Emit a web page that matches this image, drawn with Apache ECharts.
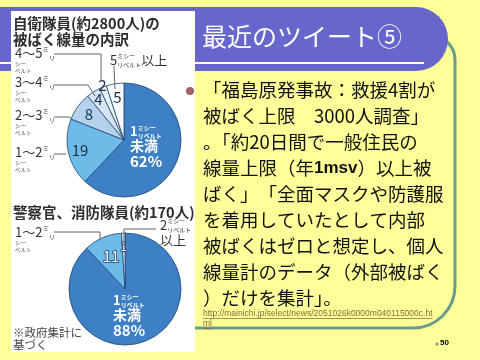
<!DOCTYPE html>
<html><head><meta charset="utf-8">
<script src="https://cdn.jsdelivr.net/npm/echarts@6/dist/echarts.min.js"></script>
<style>html,body{margin:0;padding:0;background:#ffff99}#c{width:480px;height:360px}</style>
</head><body><div id="c"></div><script>
// ---------- data ----------
const pie1Names = ['1ミリシーベルト未満','1〜2ミリシーベルト','2〜3ミリシーベルト','3〜4ミリシーベルト','4〜5ミリシーベルト','5ミリシーベルト以上'];
const pie1Values = [62, 19, 8, 4, 2, 5];
const pie1Ranges = ['1', '1〜2', '2〜3', '3〜4', '4〜5', '5'];
const pie2Names = ['1ミリシーベルト未満','1〜2ミリシーベルト','2ミリシーベルト以上'];
const pie2Values = [88, 11, 1];
const pie2Ranges = ['1', '1〜2', '2'];
const pie1Title = ['自衛隊員(約2800人)の', '被ばく線量の内訳'];
const pie2Title = '警察官、消防隊員(約170人)';
const noteLines = ['※政府集計に', '基づく'];
const slideTitle = '最近のツイート⑤';
const bodyLines = [
  [['k','「福島原発事故：救援4割が']],
  [['k','被ばく上限　3000人調査」']],
  [['k','。「'],['b','約20日間で一般住民の']],
  [['b','線量上限（年'],['bb','1msv'],['b','）以上被']],
  [['b','ばく」'],['k','「全面マスクや防護服']],
  [['k','を着用していたとして内部']],
  [['k','被ばくはゼロと想定し、個人']],
  [['k','線量計のデータ（外部被ばく']],
  [['k','）だけを集計」。']]
];
const urlLines = ['http://mainichi.jp/select/news/2051026k0000m040115000c.ht', 'ml'];
const pageNo = '50';

// ---------- styling / layout ----------
const JP = '"Noto Sans CJK JP", sans-serif';
const pie1Colors = ['#3d80c5', '#6dbbe9', '#b2d2ee', '#d4e4f4', '#e8f0f9', '#f7fafd'];
const pie2Colors = ['#3d80c5', '#6dbbe9', '#e8f0f9'];
const P1 = {cx: 124, cy: 140, r: 57};
const P2 = {cx: 125, cy: 289, r: 56};

function midAngle(vals, i) {
  const tot = vals.reduce((a, b) => a + b, 0);
  let c = 0; for (let k = 0; k < i; k++) c += vals[k];
  return (c + vals[i] / 2) / tot * 2 * Math.PI;
}
function polar(p, frac, vals, i) {
  const a = midAngle(vals, i);
  return [p.cx + p.r * frac * Math.sin(a), p.cy - p.r * frac * Math.cos(a)];
}

const rich = {
  n:  {fontSize: 13, color: '#333', fontFamily: JP, lineHeight: 15},
  st: {fontSize: 6.5, color: '#333', fontFamily: JP, lineHeight: 15, verticalAlign: 'top'},
  s0: {fontSize: 6, color: '#333', fontFamily: JP, lineHeight: 15, verticalAlign: 'top', width: 0.01},
  sb: {fontSize: 6, color: '#333', fontFamily: JP, lineHeight: 15, verticalAlign: 'bottom'},
  t:  {fontSize: 5.5, color: '#555', fontFamily: JP, lineHeight: 6.5},
  w:  {fontSize: 13, color: '#fff', fontFamily: JP, fontWeight: 'bold', lineHeight: 14},
  ws0:{fontSize: 6, color: '#fff', fontFamily: JP, fontWeight: 'bold', lineHeight: 14, verticalAlign: 'top', width: 0.01},
  wsb:{fontSize: 6, color: '#fff', fontFamily: JP, fontWeight: 'bold', lineHeight: 14, verticalAlign: 'bottom'},
  wb: {fontSize: 14, color: '#fff', fontFamily: JP, fontWeight: 'bold', lineHeight: 15},
  wp: {fontSize: 15, color: '#fff', fontFamily: JP, fontWeight: 'bold', lineHeight: 16}
};
function outsideText(range, last, wrapAbove) {
  if (last) {
    return '{n|' + range + '}{s0|ミ}{sb|リ}{s0|シー}{sb|ベルト}' + (wrapAbove ? '\n{n|以上}' : '{n|以上}');
  }
  return '{n|' + range + '}{st|ミ}{sb|リ}\n{t|シー}\n{t|ベルト}';
}
function mainText(v) {
  return '{w|1}{ws0|ミ}{wsb|リ}{ws0|シー}{wsb|ベルト}\n{wb|未満}\n{wp|' + v + '%}';
}

// inside number label radii (fraction of radius)
const in1Frac = [0, 0.79, 0.76, 0.84, 1.03, 0.75];
const in2Frac = [0, 0.63, 0.76];
// outside label positions and leader lines
const out1 = {
  1: {x: 15, y: 145, pts: [[66, 154], [60, 154], [54, 154]]},
  2: {x: 15, y: 108, pts: [[71, 118], [69, 117], [54, 117]]},
  3: {x: 15, y: 75,  pts: [[95, 96], [88, 85], [54, 85]]},
  4: {x: 15, y: 46,  pts: [[101, 81], [101, 54], [54, 54]]},
  5: {x: 110, y: 53, pts: [[115, 89], [114, 67], [114, 66]]}
};
const out2 = {
  1: {x: 15, y: 225, pts: [[100, 240], [100, 232], [54, 232]]},
  2: {x: 160, y: 218, pts: [[124, 246], [124, 229], [156, 229]]}
};

function innerSeries(p, names, vals, colors, fracs, mainOff, numStyle) {
  return {
    type: 'pie', z: 10, silent: true, animation: false,
    center: [p.cx, p.cy], radius: p.r, startAngle: 90, clockwise: true,
    avoidLabelOverlap: false, minShowLabelAngle: 0,
    itemStyle: {borderColor: '#22466e', borderWidth: 0.8},
    labelLine: {show: false},
    data: vals.map((v, i) => ({
      name: names[i], value: v, itemStyle: {color: colors[i]},
      label: i === 0
        ? {show: true, position: 'inside', formatter: mainText(v), rich: rich}
        : Object.assign({show: true, position: 'inside', formatter: String(v), fontFamily: JP}, numStyle(i))
    })),
    labelLayout: function (pr) {
      const i = pr.dataIndex;
      if (i === 0) return {x: p.cx + mainOff[0], y: p.cy + mainOff[1], align: 'left', verticalAlign: 'middle'};
      const xy = polar(p, fracs[i], vals, i);
      return {x: xy[0], y: xy[1], align: 'center', verticalAlign: 'middle'};
    }
  };
}
function outerSeries(p, names, vals, ranges, outs, wrapLast) {
  return {
    type: 'pie', z: 11, silent: true, animation: false,
    center: [p.cx, p.cy], radius: p.r, startAngle: 90, clockwise: true,
    avoidLabelOverlap: false, minShowLabelAngle: 0,
    itemStyle: {color: 'rgba(0,0,0,0)', borderWidth: 0},
    label: {show: true, position: 'outside', overflow: 'none', alignTo: 'none', rich: rich},
    labelLine: {show: true, length: 6, length2: 6, smooth: false, lineStyle: {color: '#666', width: 1}},
    data: vals.map((v, i) => ({
      name: names[i], value: v,
      label: {show: i !== 0, formatter: outsideText(ranges[i], i === vals.length - 1, wrapLast)},
      labelLine: {show: i !== 0}
    })),
    labelLayout: function (pr) {
      const o = outs[pr.dataIndex];
      if (!o) return {};
      return {x: o.x, y: o.y, align: 'left', verticalAlign: 'top', labelLinePoints: o.pts};
    }
  };
}

// ---------- graphics ----------
const graphics = [];
graphics.push({type: 'rect', z: 0, shape: {x: 100, y: 35, width: 355, height: 293, r: [0, 25, 42, 0]},
  style: {fill: 'none', stroke: '#6c9a8c', lineWidth: 3}});
graphics.push({type: 'rect', z: 1, shape: {x: -40, y: 7, width: 488, height: 64, r: 32}, style: {fill: '#6666cc'}});
graphics.push({type: 'rect', z: 2, shape: {x: 0, y: 62, width: 424, height: 2}, style: {fill: '#ffffff'}});
graphics.push({type: 'text', z: 2, x: 202, y: 36, style: {text: slideTitle, fill: '#fff', font: '25px ' + JP, verticalAlign: 'middle'}});
graphics.push({type: 'rect', z: 3, shape: {x: 11, y: 11, width: 184, height: 341}, style: {fill: '#ffffff'}});
const titleFont = 'bold 14.5px ' + JP;
graphics.push({type: 'text', z: 4, x: 13, y: 23, style: {text: pie1Title[0], fill: '#2d2d2d', font: titleFont, verticalAlign: 'middle'}});
graphics.push({type: 'text', z: 4, x: 13, y: 39, style: {text: pie1Title[1], fill: '#2d2d2d', font: titleFont, verticalAlign: 'middle'}});
graphics.push({type: 'text', z: 4, x: 13, y: 212, style: {text: pie2Title, fill: '#2d2d2d', font: titleFont, verticalAlign: 'middle'}});
graphics.push({type: 'text', z: 4, x: 13, y: 333, style: {text: noteLines[0], fill: '#444', font: '11.5px ' + JP, verticalAlign: 'middle'}});
graphics.push({type: 'text', z: 4, x: 13, y: 345, style: {text: noteLines[1], fill: '#444', font: '11.5px ' + JP, verticalAlign: 'middle'}});
// bullet
graphics.push({type: 'circle', z: 4, shape: {cx: 190, cy: 91, r: 4}, style: {fill: '#a06464'}});
const bodyRich = {
  k:  {fontSize: 18.5, fontFamily: JP, color: '#111'},
  b:  {fontSize: 18.5, fontFamily: JP, color: '#5252a3'},
  bb: {fontSize: 17, fontFamily: '"Liberation Sans", Arial, sans-serif', fontWeight: 'bold', color: '#2e2e80'}
};
bodyLines.forEach((segs, li) => {
  graphics.push({type: 'text', z: 4, x: 203, y: 90 + li * 26, style: {
    text: segs.map(s => '{' + s[0] + '|' + s[1] + '}').join(''), rich: bodyRich,
    verticalAlign: 'middle', fill: '#111'}});
});
// url
const meas = document.createElement('canvas').getContext('2d');
meas.font = '8.5px "Liberation Sans", Arial, sans-serif';
urlLines.forEach((u, i) => {
  const y = 314 + i * 10;
  graphics.push({type: 'text', z: 4, x: 203, y: y, style: {text: u, fill: '#8a6a3c', font: '8.5px "Liberation Sans", Arial, sans-serif', verticalAlign: 'middle'}});
  graphics.push({type: 'rect', z: 4, shape: {x: 203, y: y + 4, width: meas.measureText(u).width, height: 0.8}, style: {fill: '#8a6a3c'}});
});
graphics.push({type: 'circle', z: 4, shape: {cx: 437, cy: 344, r: 1.5}, style: {fill: '#888'}});
graphics.push({type: 'text', z: 4, x: 440, y: 343, style: {text: pageNo, fill: '#000', font: 'bold 8px "Liberation Sans", Arial, sans-serif', verticalAlign: 'middle'}});

const numDark = () => ({color: '#1f2f45', fontSize: 15});
const numWhite = (i) => ({color: '#fff', fontSize: i === 2 ? 12 : 15, textBorderColor: '#1d3d6d', textBorderWidth: 1.5});

const chart = echarts.init(document.getElementById('c'), null, {renderer: 'canvas'});
chart.setOption({
  backgroundColor: '#ffff99',
  animation: false,
  graphic: {elements: graphics},
  series: [
    innerSeries(P1, pie1Names, pie1Values, pie1Colors, in1Frac, [6, 7], numDark),
    outerSeries(P1, pie1Names, pie1Values, pie1Ranges, out1, false),
    innerSeries(P2, pie2Names, pie2Values, pie2Colors, in2Frac, [-12, 27], numWhite),
    outerSeries(P2, pie2Names, pie2Values, pie2Ranges, out2, true)
  ]
});
</script></body></html>
